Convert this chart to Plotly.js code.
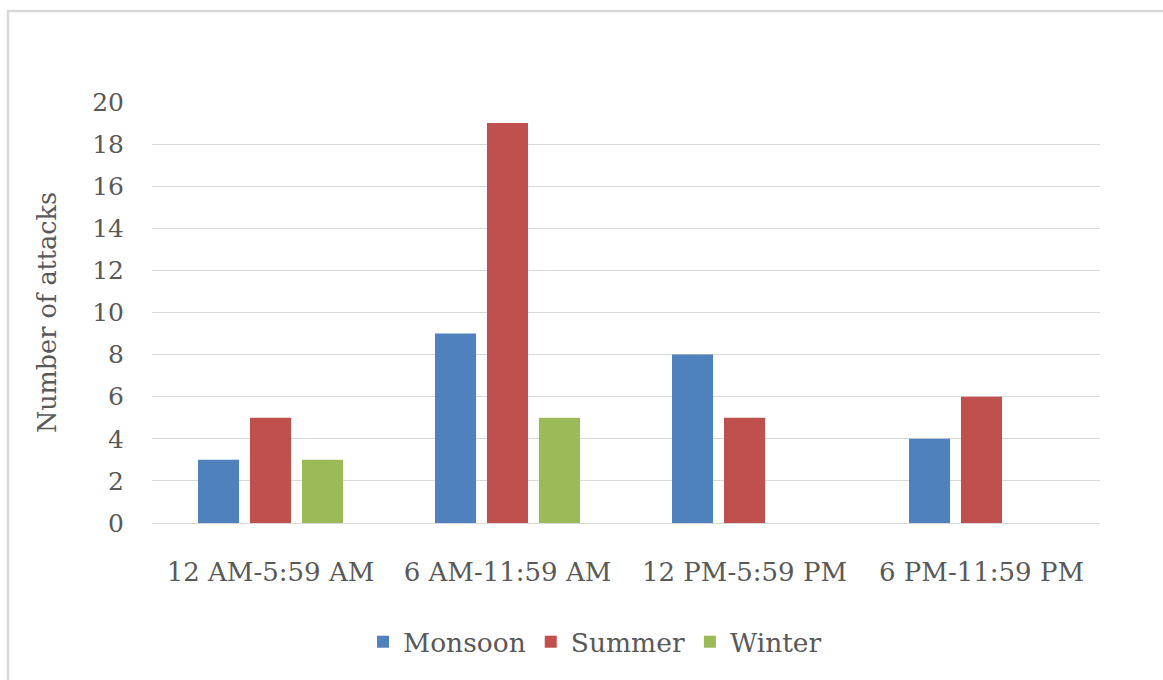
<!DOCTYPE html>
<html>
<head>
<meta charset="utf-8">
<script src="https://cdn.plot.ly/plotly-3.0.1.min.js"></script>
<style>
  html, body { margin: 0; padding: 0; background: #ffffff; }
  #chart { width: 1163px; height: 680px; }
</style>
</head>
<body>
<div id="chart"></div>
<script>
// Time-of-day windows on the x axis
const timeSlots = ['12 AM-5:59 AM', '6 AM-11:59 AM', '12 PM-5:59 PM', '6 PM-11:59 PM'];

// Number of attacks per season in each window
const monsoon = [3, 9, 8, 4];
const summer  = [5, 19, 5, 6];
const winter  = [3, 5, 0, 0];

const yTicks = [0, 2, 4, 6, 8, 10, 12, 14, 16, 18, 20];

const FONT = 'DejaVu Serif';
const TEXT = '#595959';
const GRID = '#d9d9d9';

const W = 1163, H = 680;
const M = { l: 152, r: 63, t: 102, b: 157 };
const pw = W - M.l - M.r, ph = H - M.t - M.b;
// convert pixel positions to paper coordinates for the outer frame
const px = x => (x - M.l) / pw;
const py = y => (H - M.b - y) / ph;

const traces = [
  { name: 'Monsoon', values: monsoon, color: '#4F81BD' },
  { name: 'Summer',  values: summer,  color: '#C0504D' },
  { name: 'Winter',  values: winter,  color: '#9BBB59' }
].map(s => ({
  type: 'bar',
  name: s.name,
  x: timeSlots,
  y: s.values,
  marker: { color: s.color, line: { width: 0 } },
  hoverinfo: 'x+y+name'
}));

const layout = {
  width: W,
  height: H,
  margin: M,
  paper_bgcolor: '#ffffff',
  plot_bgcolor: '#ffffff',
  font: { family: FONT, color: TEXT, size: 26 },
  barmode: 'group',
  bargap: 0.342,
  bargroupgap: 0.21,
  showlegend: true,
  legend: {
    orientation: 'h',
    x: px(595),
    xanchor: 'center',
    y: py(642),
    yanchor: 'middle',
    font: { family: FONT, color: TEXT, size: 26.5 },
    itemclick: false,
    traceorder: 'normal'
  },
  xaxis: {
    type: 'category',
    showgrid: false,
    showline: true,
    linecolor: GRID,
    linewidth: 1,
    ticks: '',
    ticklabelstandoff: 26,
    tickfont: { family: FONT, color: TEXT, size: 26 },
    fixedrange: true
  },
  yaxis: {
    range: [0, 20],
    tickvals: yTicks,
    ticktext: yTicks.map(String),
    showgrid: true,
    gridcolor: GRID,
    gridwidth: 1,
    zeroline: false,
    showline: false,
    ticks: '',
    ticklabelstandoff: 27,
    tickfont: { family: FONT, color: TEXT, size: 25 },
    title: {
      text: 'Number of attacks',
      font: { family: FONT, color: TEXT, size: 25.5 },
      standoff: 28
    },
    fixedrange: true
  },
  shapes: [{
    type: 'rect',
    xref: 'paper', yref: 'paper',
    x0: px(8), x1: px(1170),
    y0: py(690), y1: py(11),
    line: { color: '#d9d9d9', width: 2.5 },
    fillcolor: 'rgba(0,0,0,0)',
    layer: 'below'
  }]
};

Plotly.newPlot('chart', traces, layout, { displayModeBar: false, staticPlot: false });
</script>
</body>
</html>
